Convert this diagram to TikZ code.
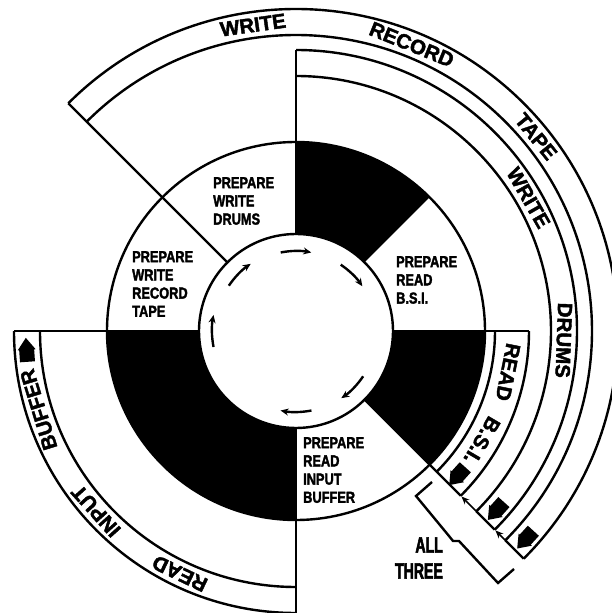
\documentclass[tikz,border=0pt]{standalone}
\usepackage{fontspec}
\setmainfont{Liberation Sans}
\newfontfamily\bandfont[FakeBold=2]{Liberation Sans Bold}
\newfontfamily\secfont[FakeStretch=0.8,FakeBold=2]{Liberation Sans Bold}
\newfontfamily\allfont[FakeStretch=0.64,FakeBold=2.5]{Liberation Sans Bold}
\usetikzlibrary{arrows.meta}
\begin{document}
\begin{tikzpicture}[x=1pt,y=1pt,
  ln/.style={line width=2.4pt},
  thinarrow/.style={line width=1.6pt,-{Stealth[length=8pt,width=6.5pt]}},
  inarrow/.style={line width=2.4pt,-{Stealth[length=8pt,width=7pt]}},
  bandtxt/.style={font=\bandfont\fontsize{20.5}{21}\selectfont, inner sep=0pt},
  sectxt/.style={font=\secfont\fontsize{16}{18.2}\selectfont, align=left, inner sep=0pt, anchor=north west},
  alltxt/.style={font=\allfont\fontsize{22}{24}\selectfont, inner sep=0pt, anchor=east},
  blockarrow/.pic={\fill (12,0) -- (0,9) -- (0,7.5) -- (-12,7.5) -- (-12,-7.5) -- (0,-7.5) -- (0,-9) -- cycle;}
]
\useasboundingbox (-296,-282) rectangle (316,331);
% black sectors
\fill (0,0) -- (45:189) arc[start angle=45,end angle=90,radius=189] -- cycle;
\fill (0,0) -- (0:189) arc[start angle=0,end angle=-45,radius=189] -- cycle;
\fill (0,0) -- (180:189) arc[start angle=180,end angle=270,radius=189] -- cycle;
% rings
\draw[ln] (0,0) circle[radius=189];
% radial lines
\draw[ln] (135:97) -- (135:322);
\draw[ln] (90:97) -- (90:281);
\draw[ln] (0:97) -- (0:233);
\draw[ln] (180:97) -- (180:282);
\draw[ln] (270:97) -- (270:282);
\draw[ln] (-45:97) -- (-45:233);
\draw[ln] (-45:255) -- (-45:281);
\draw[ln] (-45:296) -- (-45:322);
\draw[thinarrow] (-45:256) -- (-45:234);
\draw[thinarrow] (-45:297) -- (-45:282);
\draw[ln, fill=white] (0,0) circle[radius=97];
% bands
\draw[ln] (135:296) arc[start angle=135,end angle=-45,radius=296];
\draw[ln] (135:322) arc[start angle=135,end angle=-45,radius=322];
\draw[ln] (90:255) arc[start angle=90,end angle=-45,radius=255];
\draw[ln] (90:281) arc[start angle=90,end angle=-45,radius=281];
\draw[ln] (0:199) arc[start angle=0,end angle=-45,radius=199];
\draw[ln] (0:233) arc[start angle=0,end angle=-45,radius=233];
\draw[ln] (180:256) arc[start angle=180,end angle=270,radius=256];
\draw[ln] (180:282) arc[start angle=180,end angle=270,radius=282];
% inner cycle arrows
\foreach \a/\r in {90/80, 45/80, -45/81, -90/81, 180/84, 135/81}
  \draw[inarrow] (\a+11:\r) arc[start angle=\a+11, end angle=\a-11, radius=\r];
% block arrows
\pic[rotate=-132] at (-42:217) {blockarrow};
\pic[rotate=-132] at (-42:269) {blockarrow};
\pic[rotate=-132.3] at (-42.3:310) {blockarrow};
\pic[rotate=94] at (184:270) {blockarrow};
% bracket
\coordinate (b1) at (136,-151);
\coordinate (b2) at (120,-165);
\coordinate (b3) at (153,-205);
\coordinate (b4) at (157,-210);
\coordinate (b5) at (163,-210);
\coordinate (b6) at (202,-252);
\coordinate (b7) at (218,-238);
\draw[ln, line join=miter] (b1) -- (b2) -- (b3) -- (b4) -- (b5) -- (b6) -- (b7);
% band texts
\node[bandtxt, rotate=8] (t1) at (98:309) {WRITE};
\node[bandtxt, rotate=-22] (t2) at (68:309) {RECORD};
\node[bandtxt, rotate=-51] (t3) at (39:309) {TAPE};
\node[bandtxt, rotate=-60.2] (t4) at (29.8:268) {WRITE};
\node[bandtxt, rotate=-92] (t5) at (-2:268) {DRUMS};
\node[bandtxt, rotate=-101.2] (t6) at (-11:216) {READ};
\node[bandtxt, rotate=-120.5] (t7) at (-30.5:216) {B.S.I.};
\node[bandtxt, rotate=154.4] (t8) at (244.4:269) {READ};
\node[bandtxt, rotate=132] (t9) at (222:269) {INPUT};
\node[bandtxt, rotate=107] (t10) at (197:269) {BUFFER};
% sector texts
\node[sectxt] (s1) at (-83,154) {PREPARE\\WRITE\\DRUMS};
\node[sectxt] (s2) at (100,75) {PREPARE\\READ\\B.S.I.};
\node[sectxt] (s3) at (-164,80) {PREPARE\\WRITE\\RECORD\\TAPE};
\node[sectxt] (s4) at (7,-106) {PREPARE\\READ\\INPUT\\BUFFER};
% all three
\node[alltxt] (a1) at (147,-214) {ALL};
\node[alltxt] (a2) at (147,-240) {THREE};
\end{tikzpicture}
\end{document}
